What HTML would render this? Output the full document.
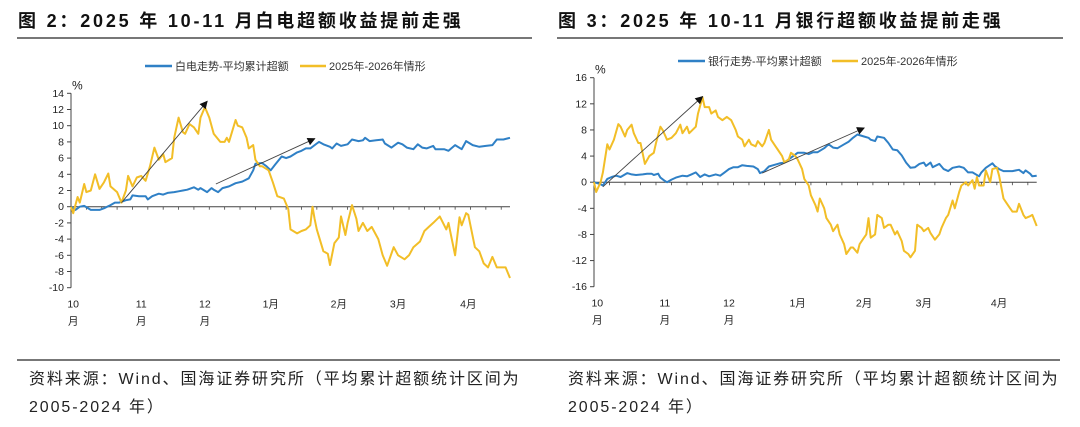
<!DOCTYPE html>
<html><head><meta charset="utf-8">
<style>
body{margin:0;background:#fff;width:1080px;height:427px;overflow:hidden;position:relative;font-family:"Liberation Sans","Noto Sans CJK SC",sans-serif;}
.title{position:absolute;top:7px;font-size:18px;font-weight:bold;color:#111;font-family:"Liberation Sans","Noto Sans CJK SC",sans-serif;letter-spacing:2.8px;}
.rule{position:absolute;height:1.5px;background:#777;}
.src{position:absolute;font-size:16px;color:#222;font-family:"Liberation Sans","Noto Sans CJK SC",sans-serif;line-height:28px;letter-spacing:1.9px;}
svg{position:absolute;left:0;top:0;}
</style></head><body>
<div class="title" style="left:18px">图 2：2025 年 10-11 月白电超额收益提前走强</div>
<div class="title" style="left:558px">图 3：2025 年 10-11 月银行超额收益提前走强</div>
<div class="rule" style="left:17px;top:37px;width:515px"></div>
<div class="rule" style="left:557px;top:37px;width:506px"></div>
<div class="rule" style="left:17px;top:359px;width:1043px"></div>
<div class="src" style="left:29px;top:366px">资料来源：Wind、国海证券研究所（平均累计超额统计区间为<br>2005-2024 年）</div>
<div class="src" style="left:568px;top:366px">资料来源：Wind、国海证券研究所（平均累计超额统计区间为<br>2005-2024 年）</div>
<svg id="chart" width="1080" height="427"></svg>
<script>
// ---- Left chart data (白电) ----
const leftYellowDays=[0,1,3,4,6,7,9,11,13,15,17,18,21,23,25,26,28,30,32,34,36,38,40,42,43,46,47,49,51,52,54,56,58,59,61,63,65,68,70,71,72,75,76,78,80,81,83,84,86,87,90,92,94,97,99,100,103,105,107,109,110,111,112,115,117,118,120,122,123,125,126,128,130,131,133,135,137,140,142,144,147,149,152,154,156,159,161,163,165,168,171,172,175,177,178,180,181,184,186,188,190,192,194,197,198,200];
const leftYellowVals=[0,-0.8,1.2,0.5,2.8,1.8,2,4,2.2,3,4.1,2.5,1.8,0.5,2,3.8,2.5,3.6,3.8,3.2,5,7.3,5.8,6.5,5.5,6,8.5,11,9.2,9,10.2,9.8,9,11,12.3,11,9,8,8,8.5,8,10.7,10,9.8,8.5,7.2,7.6,5.8,5,5,4.5,3,1.3,1,-0.3,-2.8,-3.3,-3,-2.8,-2.3,0,-1.5,-2.8,-5.5,-5.8,-7.2,-4.5,-3.8,-1.2,-3.5,-2,0.2,-1.5,-3,-2,-3,-2.5,-4,-6,-7.3,-5,-6,-6.5,-6,-5,-4.3,-3,-2.5,-2,-1.2,-2.8,-2,-6,-1.3,-2.3,-0.8,-1,-5,-5.5,-7,-7.5,-6.2,-7.5,-7.5,-7.5,-8.8];
const leftBlueDays=[0,2,4,6,9,13,15,18,20,22,25,27,28,31,34,35,37,40,42,44,47,49,51,53,56,58,59,62,64,65,67,69,72,75,78,81,83,84,87,89,91,93,96,98,100,103,105,107,109,112,113,115,118,119,121,123,126,128,131,133,134,136,139,142,143,146,149,151,153,156,158,160,162,165,166,170,172,175,178,180,183,186,189,192,194,197,200];
const leftBlueVals=[0,-0.4,0,0.1,-0.4,-0.4,-0.2,0.2,0.5,0.5,0.8,0.9,1.4,1.3,1.3,0.9,1.3,1.6,1.5,1.7,1.8,1.9,2,2.1,2.4,2.1,2.3,1.8,2.3,2.1,1.8,2.3,2.5,2.9,3.1,3.5,4.5,5.3,5.4,5,4.5,5.2,6.2,6,6.2,6.7,6.9,7.2,7.2,7.8,8,7.7,7.4,7.2,7.8,7.5,7.7,8.3,8.1,8.2,8.5,8.1,8.2,8.3,7.8,7.3,7.9,7.7,7.3,7.1,7.7,7.3,7.2,7.5,7.1,7.1,6.9,7.6,7.1,8.1,7.6,7.4,7.5,7.6,8.3,8.3,8.5];
const leftYTicks=[14,12,10,8,6,4,2,0,-2,-4,-6,-8,-10];
const leftMonthDays=[1,32,61,91,122,149,181];
const leftMonthLabels=[["10","月"],["11","月"],["12","月"],["1月"],["2月"],["3月"],["4月"]];
const leftArrows=[[23,0.5,62,13],[66,2.8,111,8.4]];
// ---- Right chart data (银行) ----
const rightYellowDays=[0,1,3,4,6,7,9,11,12,14,15,17,18,20,21,23,25,27,28,30,31,33,35,37,39,40,42,43,46,47,49,50,52,53,55,56,58,60,62,64,65,67,68,70,71,73,74,76,77,79,80,82,83,85,86,88,89,91,92,94,95,97,98,100,101,102,104,105,107,108,110,111,113,114,116,117,119,120,122,123,124,125,127,128,130,131,133,134,136,137,139,140,142,143,145,146,148,149,151,152,154,156,157,159,160,162,163,165,166,168,169,171,172,173,174,176,177,179,180,182,183,185,186,188,189,191,192,194,195,197,198,200];
const rightYellowVals=[0,-1.5,0,1.5,5.8,5,6.5,8.9,8.5,7,8,8.8,7.5,6,6,2.8,4,4.5,6,8.5,8,6.5,6.8,7.5,8.8,7.5,8.5,7.5,8.5,10.5,13,11.5,11.5,10.5,11,10,9.5,10,9.5,8,7,6.5,5.5,6.5,5.8,5.5,6.3,5.5,6,8,6.5,5.5,5,4,3,3.5,4.5,4,3.5,2,0.5,-0.5,-2,-3.5,-4.5,-2.5,-4,-5.5,-6.5,-7.5,-6.5,-8,-9.5,-11,-10,-10,-10.8,-9.5,-8.5,-8,-5.5,-8.5,-8,-5,-5.5,-7,-6.5,-6.5,-8,-7.5,-9,-10.5,-11,-11.5,-10.5,-6.5,-7,-7.5,-7,-7.8,-8.8,-8,-7,-5.5,-5,-2.8,-4,-1.5,-0.5,0,-0.5,0.3,-1,0.8,-0.5,-0.5,1.8,0,2,2.2,1,-2.5,-3,-4,-4.5,-4.5,-3.3,-5,-5.5,-5.2,-5,-6.7];
const rightBlueDays=[0,3,4,6,8,10,12,15,17,19,22,24,26,27,29,30,32,33,35,37,40,42,44,46,48,50,52,55,57,59,61,63,65,67,69,72,74,75,77,79,81,84,86,88,90,92,95,97,99,101,104,106,108,110,113,115,117,119,122,124,125,127,128,131,133,135,137,139,141,143,145,147,149,150,152,153,156,158,160,162,165,167,169,171,174,175,177,180,181,183,185,187,189,192,194,195,197,198,200];
const rightBlueVals=[0,-0.3,-0.5,0.5,0.8,1,0.8,1.4,1.2,1.1,1.2,1.3,1.3,1.1,1.3,0.7,0.2,0,0.4,0.7,1,0.9,1.2,1.5,0.8,1.2,0.9,1.2,1,1.5,2,2.3,2.3,2.6,2.5,2.4,2,1.4,1.7,2.4,2.6,2.9,3,3.5,4,4.5,4.5,4.3,4.6,4.6,5.2,5.8,5.3,5.2,5.8,6.2,6.8,7.3,7,6.8,6.5,6.3,7,6.8,6,5,4.9,4.1,3,2.2,2.3,2.8,3,2.5,3,2.3,2.8,2,1.7,2.2,2.4,2.2,1.5,1.5,0.9,1.5,2.2,2.9,2.5,2,1.7,1.7,1.7,1.9,1.4,1.8,1.3,0.9,1];
const rightYTicks=[16,12,8,4,0,-4,-8,-12,-16];
const rightMonthDays=[1.5,32,61,92,122,149,183];
const rightMonthLabels=[["10","月"],["11","月"],["12","月"],["1月"],["2月"],["3月"],["4月"]];
const rightArrows=[[4,-0.7,49,13.1],[76,1.4,122,8.3]];

const NS="http://www.w3.org/2000/svg";
const svg=document.getElementById('chart');
function mk(tag,attrs,parent){const e=document.createElementNS(NS,tag);for(const k in attrs)e.setAttribute(k,attrs[k]);(parent||svg).appendChild(e);return e;}
const defs=mk('defs',{});
const mkr=mk('marker',{id:'ah',markerWidth:'8',markerHeight:'8',refX:'7',refY:'4',orient:'auto',markerUnits:'userSpaceOnUse'},defs);
mk('path',{d:'M0,0 L8,4 L0,8 Z',fill:'#111'},mkr);

function drawChart(c){
  const g=mk('g',{});
  
  
  const x=d=>c.x0+(d-0)/200*(c.x1-c.x0);
  const y=v=>c.yTop+(c.yMax-v)/(c.yMax-c.yMin)*(c.yBot-c.yTop);
  const ya=mk('line',{x1:c.x0,x2:c.x0,y1:y(c.yMax),y2:y(c.yMin),stroke:'#444','stroke-width':1},g);
  
  
  c.yTicks.forEach(t=>{
    mk('line',{x1:c.x0-4,x2:c.x0,y1:y(t),y2:y(t),stroke:'#444','stroke-width':1},g);
    const tx=mk('text',{x:c.x0-7,y:y(t)+3.5,'text-anchor':'end','font-size':10.5,fill:'#222'},g);
    tx.textContent=t;
    
    
  });
  const pct=mk('text',{x:c.x0+1,y:y(c.yMax)-4,'font-size':12,fill:'#222'},g);
  pct.textContent='%';
  
  
  const xa=mk('line',{x1:c.x0,x2:c.x1,y1:y(0),y2:y(0),stroke:'#444','stroke-width':1},g);
  
  
  for(let d=0;d<=200;d+=7)mk('line',{x1:x(d),x2:x(d),y1:y(0),y2:y(0)+3,stroke:'#444','stroke-width':0.8},g);
  c.monthDays.forEach((d,i)=>{
    const lab=c.monthLabels[i];
    lab.forEach((s,j)=>{
      const t=mk('text',{x:x(d),y:y(c.yMin)+20+j*17,'text-anchor':'middle','font-size':10.5,fill:'#222'},g);
      t.textContent=s;
      
      
    });
  });
  function line(days,vals,color,nm){
    const n=Math.min(days.length,vals.length);
    let p='';for(let i=0;i<n;i++)p+=(i?'L':'M')+x(days[i]).toFixed(1)+','+y(vals[i]).toFixed(1);
    const l=mk('path',{d:p,fill:'none',stroke:color,'stroke-width':2,'stroke-linejoin':'round'},g);
    
    
  }
  line(c.blueDays,c.blueVals,'#2f80c6','average-excess-line');
  line(c.yDays,c.yVals,'#f2be27','current-year-line');
  c.arrows.forEach(a=>{
    const ar=mk('line',{x1:x(a[0]),y1:y(a[1]),x2:x(a[2]),y2:y(a[3]),stroke:'#444','stroke-width':0.9,'marker-end':'url(#ah)'},g);
    
    
  });
  const lg=mk('g',{},g);
  
  
  mk('line',{x1:c.lx,x2:c.lx+27,y1:c.ly,y2:c.ly,stroke:'#2f80c6','stroke-width':2.5},lg);
  const t1=mk('text',{x:c.lx+30,y:c.ly+4,'font-size':11,fill:'#333'},lg);t1.textContent=c.blueName;
  
  
  mk('line',{x1:c.lx2,x2:c.lx2+26,y1:c.ly,y2:c.ly,stroke:'#f2be27','stroke-width':2.5},lg);
  const t2=mk('text',{x:c.lx2+29,y:c.ly+4,'font-size':11,fill:'#333'},lg);t2.textContent='2025年-2026年情形';
  
  
}
drawChart({name:'left-chart',x0:71,x1:510,yTop:93.3,yBot:287.7,yMax:14,yMin:-10,yTicks:leftYTicks,
  monthDays:leftMonthDays,monthLabels:leftMonthLabels,blueDays:leftBlueDays,blueVals:leftBlueVals,
  yDays:leftYellowDays,yVals:leftYellowVals,arrows:leftArrows,lx:145,lx2:300,ly:66,blueName:'白电走势-平均累计超额'});
drawChart({name:'right-chart',x0:594,x1:1036.7,yTop:77.7,yBot:286.7,yMax:16,yMin:-16,yTicks:rightYTicks,
  monthDays:rightMonthDays,monthLabels:rightMonthLabels,blueDays:rightBlueDays,blueVals:rightBlueVals,
  yDays:rightYellowDays,yVals:rightYellowVals,arrows:rightArrows,lx:678,lx2:832,ly:61,blueName:'银行走势-平均累计超额'});
</script>
</body></html>
